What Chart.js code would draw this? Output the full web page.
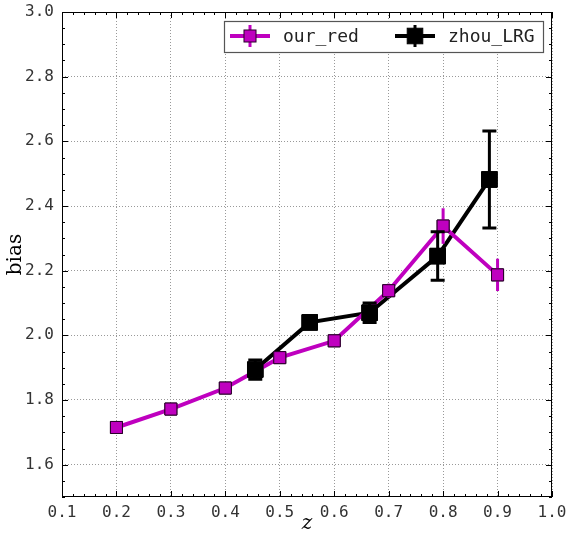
<!DOCTYPE html>
<html>
<head>
<meta charset="utf-8">
<script src="https://cdn.jsdelivr.net/npm/chart.js@4"></script>
<style>
  body { margin: 0; background: #fff; }
  #wrap { width: 566px; height: 536px; position: relative; }
</style>
</head>
<body>
<div id="wrap"><canvas id="biasChart"></canvas></div>
<script>
// bias vs redshift
const redZ = [0.2, 0.3, 0.4, 0.5, 0.6, 0.7, 0.8, 0.9];
const redBias = [1.715, 1.772, 1.837, 1.931, 1.983, 2.138, 2.338, 2.187];
const redErr = [0.008, 0.008, 0.008, 0.008, 0.008, 0.022, 0.055, 0.05];

const lrgZ = [0.455, 0.555, 0.665, 0.79, 0.885];
const lrgBias = [1.894, 2.040, 2.070, 2.245, 2.482];
const lrgErr = [0.03, 0.01, 0.03, 0.075, 0.15];

const xTicks = [0.1, 0.2, 0.3, 0.4, 0.5, 0.6, 0.7, 0.8, 0.9, 1.0];
const yTicks = [1.6, 1.8, 2.0, 2.2, 2.4, 2.6, 2.8, 3.0];

const MAGENTA = '#bf00bf';
const monoFont = "'DejaVu Sans Mono', monospace";
const serifFont = "'DejaVu Serif', 'Liberation Serif', serif";

// vertical error bars, markers redrawn on top
const errorBars = {
    id: 'errorBars',
    afterDatasetsDraw(chart) {
        const ctx = chart.ctx;
        const ys = chart.scales.y;
        chart.data.datasets.forEach((ds, i) => {
            const meta = chart.getDatasetMeta(i);
            ctx.save();
            ctx.strokeStyle = ds.borderColor;
            ctx.lineWidth = ds.errWidth;
            meta.data.forEach((pt, j) => {
                const v = ds.data[j].y, e = ds.yErr[j];
                const top = ys.getPixelForValue(v + e);
                const bot = ys.getPixelForValue(v - e);
                ctx.beginPath();
                ctx.moveTo(pt.x, top);
                ctx.lineTo(pt.x, bot);
                if (ds.capSize) {
                    ctx.moveTo(pt.x - ds.capSize, top);
                    ctx.lineTo(pt.x + ds.capSize, top);
                    ctx.moveTo(pt.x - ds.capSize, bot);
                    ctx.lineTo(pt.x + ds.capSize, bot);
                }
                ctx.stroke();
            });
            ctx.restore();
            meta.data.forEach(pt => pt.draw(ctx, chart.chartArea));
        });
    }
};

// frame, inward ticks on every side, and the legend box
const frameAndLegend = {
    id: 'frameAndLegend',
    afterDraw(chart) {
        const ctx = chart.ctx;
        const { left, right, top, bottom } = chart.chartArea;
        const xs = chart.scales.x, ys = chart.scales.y;
        ctx.save();
        ctx.strokeStyle = '#000';
        ctx.lineWidth = 1;
        ctx.strokeRect(left + 0.5, top + 0.5, right - left - 1, bottom - top - 1);

        ctx.beginPath();
        for (let k = 0; k <= 45; k++) {
            const v = 0.1 + k * 0.02;
            const px = Math.round(xs.getPixelForValue(v)) + 0.5;
            const len = k % 5 === 0 ? 6 : 3;
            ctx.moveTo(px, bottom); ctx.lineTo(px, bottom - len);
            ctx.moveTo(px, top); ctx.lineTo(px, top + len);
        }
        for (let k = 0; k <= 30; k++) {
            const v = 1.5 + k * 0.05;
            const py = Math.round(ys.getPixelForValue(v)) + 0.5;
            const len = (k + 2) % 4 === 0 ? 6 : 3;
            ctx.moveTo(left, py); ctx.lineTo(left + len, py);
            ctx.moveTo(right, py); ctx.lineTo(right - len, py);
        }
        ctx.stroke();

        // legend
        const bx = 224, by = 21, bw = 319, bh = 31;
        ctx.fillStyle = '#fff';
        ctx.fillRect(bx, by, bw, bh);
        ctx.strokeStyle = '#555';
        ctx.lineWidth = 1.2;
        ctx.strokeRect(bx + 0.5, by + 0.5, bw, bh);
        const cy = by + 15;
        const entries = [
            { ds: chart.data.datasets[0], x0: 230 },
            { ds: chart.data.datasets[1], x0: 395 }
        ];
        entries.forEach(({ ds, x0 }) => {
            const cx = x0 + 20;
            ctx.strokeStyle = ds.borderColor;
            ctx.lineWidth = ds.borderWidth;
            ctx.beginPath();
            ctx.moveTo(x0, cy); ctx.lineTo(x0 + 40, cy);
            ctx.stroke();
            ctx.lineWidth = ds.errWidth;
            ctx.beginPath();
            ctx.moveTo(cx, cy - 11); ctx.lineTo(cx, cy + 11);
            ctx.stroke();
            const s = ds.pointRadius * Math.SQRT1_2;
            ctx.fillStyle = ds.pointBackgroundColor;
            ctx.fillRect(cx - s, cy - s, 2 * s, 2 * s);
            ctx.strokeStyle = ds.pointBorderColor;
            ctx.lineWidth = 1;
            ctx.strokeRect(cx - s, cy - s, 2 * s, 2 * s);
            ctx.fillStyle = '#222';
            ctx.font = '18px ' + monoFont;
            ctx.textBaseline = 'middle';
            ctx.fillText(ds.label, x0 + 53, cy + 1);
        });
        ctx.restore();
    }
};

const ctx = document.getElementById('biasChart').getContext('2d');
const biasChart = new Chart(ctx, {
    type: 'line',
    data: {
        datasets: [{
            label: 'our_red',
            data: redZ.map((z, i) => ({ x: z, y: redBias[i] })),
            yErr: redErr,
            errWidth: 3,
            capSize: 0,
            borderColor: MAGENTA,
            borderWidth: 4,
            pointStyle: 'rect',
            pointRadius: 8.5,
            pointBackgroundColor: MAGENTA,
            pointBorderColor: '#2a002a',
            pointBorderWidth: 1,
            tension: 0
        }, {
            label: 'zhou_LRG',
            data: lrgZ.map((z, i) => ({ x: z, y: lrgBias[i] })),
            yErr: lrgErr,
            errWidth: 3,
            capSize: 7,
            borderColor: '#000',
            borderWidth: 4,
            pointStyle: 'rect',
            pointRadius: 11,
            pointBackgroundColor: '#000',
            pointBorderColor: '#000',
            pointBorderWidth: 1,
            tension: 0
        }]
    },
    options: {
        responsive: true,
        maintainAspectRatio: false,
        animation: false,
        layout: { padding: { top: 12, right: 14, left: 0, bottom: 0 } },
        plugins: {
            legend: { display: false },
            tooltip: { enabled: false }
        },
        scales: {
            x: {
                type: 'linear',
                min: 0.1,
                max: 1.0,
                z: 1,
                afterFit: s => { s.height = 39; s.paddingLeft = 0; s.paddingRight = 0; },
                afterBuildTicks: s => { s.ticks = xTicks.map(v => ({ value: v })); },
                grid: { color: '#999', lineWidth: 1, drawTicks: false },
                border: { display: false, dash: [1, 2] },
                ticks: {
                    padding: 6,
                    color: '#333',
                    font: { family: monoFont, size: 16 },
                    callback: v => v.toFixed(1)
                },
                title: {
                    display: true,
                    text: 'z',
                    color: '#000',
                    padding: { top: 0, bottom: 0 },
                    font: { family: serifFont, size: 20, style: 'italic' }
                }
            },
            y: {
                type: 'linear',
                min: 1.5,
                max: 3.0,
                z: 1,
                afterFit: s => { s.width = 62; s.paddingTop = 0; s.paddingBottom = 0; },
                afterBuildTicks: s => { s.ticks = yTicks.map(v => ({ value: v })); },
                grid: { color: '#999', lineWidth: 1, drawTicks: false },
                border: { display: false, dash: [1, 2] },
                ticks: {
                    padding: 8,
                    color: '#333',
                    font: { family: monoFont, size: 16 },
                    callback: v => v.toFixed(1)
                },
                title: {
                    display: true,
                    text: 'bias',
                    color: '#000',
                    padding: { top: 4, bottom: 0 },
                    font: { family: serifFont, size: 20 }
                }
            }
        }
    },
    plugins: [errorBars, frameAndLegend]
});
</script>
</body>
</html>
